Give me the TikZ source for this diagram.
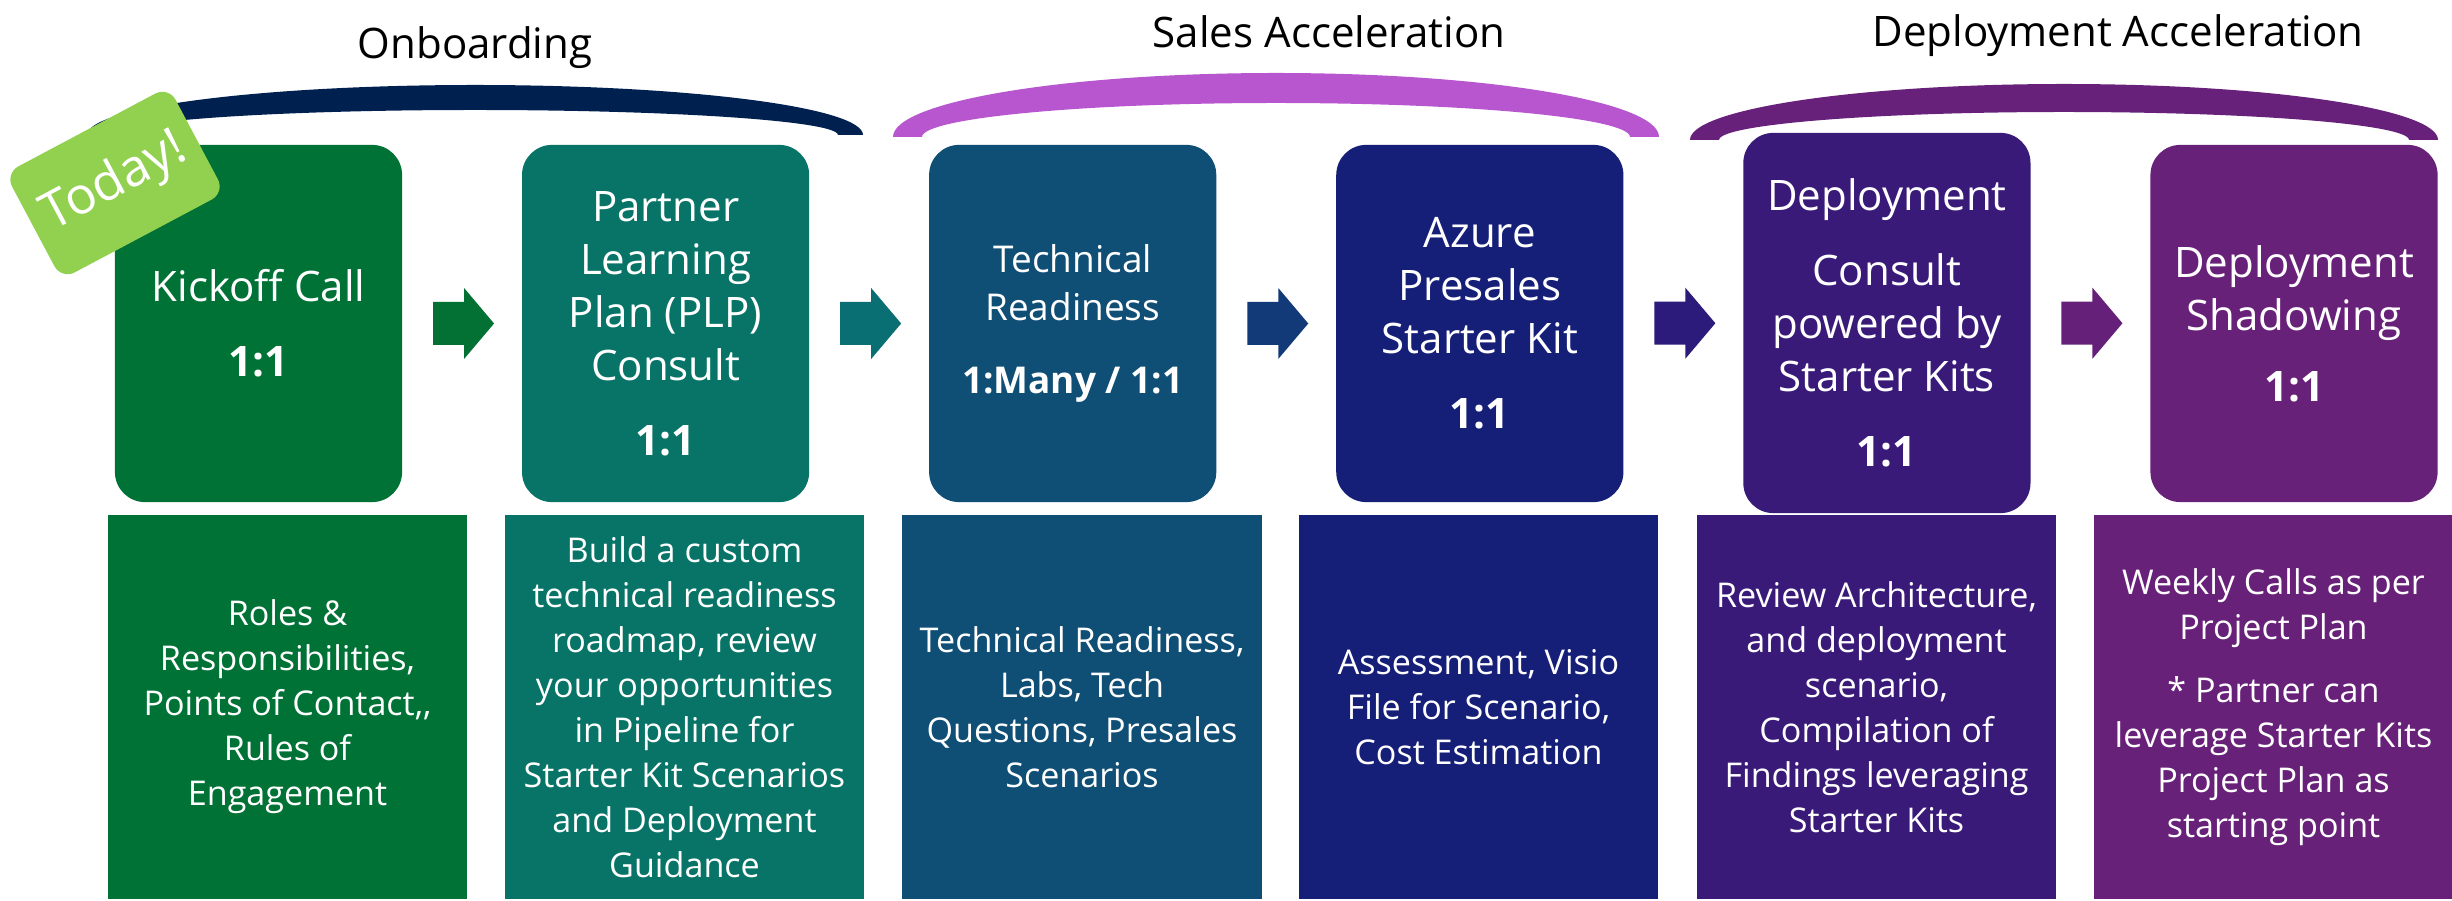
\documentclass[tikz,border=0pt]{standalone}
\usepackage{fontspec}
\setmainfont{Open Sans}
\usetikzlibrary{calc}

% stage colours
\definecolor{stA}{RGB}{0,114,54}
\definecolor{stB}{RGB}{7,116,103}
\definecolor{stC}{RGB}{15,78,117}
\definecolor{stD}{RGB}{22,31,120}
\definecolor{stE}{RGB}{58,26,120}
\definecolor{stF}{RGB}{104,33,120}
% arrow colours
\definecolor{arA}{RGB}{3,113,52}
\definecolor{arB}{RGB}{10,111,115}
\definecolor{arC}{RGB}{18,58,121}
\definecolor{arD}{RGB}{44,27,122}
\definecolor{arE}{RGB}{101,33,121}
% phase brackets and badge
\definecolor{brNavy}{RGB}{0,32,80}
\definecolor{brOrchid}{RGB}{184,86,207}
\definecolor{brPurple}{RGB}{104,33,122}
\definecolor{badge}{RGB}{146,208,80}

\newcommand\stagefont{\fontsize{11.95}{15.08}\selectfont}
\newcommand\smallstagefont{\fontsize{10.5}{13.7}\selectfont}
\newcommand\detailfont{\fontsize{9.7}{12.8}\selectfont}
\newcommand\phasefont{\fontsize{11.95}{14}\selectfont}
\newcommand\todayfont{\fontsize{14.6}{16}\selectfont}

\tikzset{
  stagebox/.style={rounded corners=0.3cm, inner sep=0pt, minimum width=2.87cm,
    minimum height=3.57cm, text=white, align=center, font=\stagefont},
  detailbox/.style={inner sep=0pt, minimum width=3.59cm, minimum height=3.84cm,
    text=white, align=center, font=\detailfont},
  phaselabel/.style={anchor=base, font=\phasefont, text=black},
  blockarrow/.pic={
    \fill[pic actions] (-29,-21.5) -- (2,-21.5) -- (2,-35.5) -- (32,0)
      -- (2,35.5) -- (2,21.5) -- (-29,21.5) -- cycle;
  }
}

\begin{document}
\begin{tikzpicture}[x=0.01cm,y=-0.01cm]
\useasboundingbox (0,0) rectangle (2452,901);
\fill[white] (0,0) rectangle (2452,901);

% phase brackets
\fill[brNavy] (87,135) arc[start angle=180,end angle=360,x radius=388,y radius=50]
  -- (838,135) arc[start angle=0,end angle=-180,x radius=363,y radius=25] -- cycle;
\fill[brOrchid] (893,137) arc[start angle=180,end angle=360,x radius=383,y radius=64]
  -- (1630,137) arc[start angle=0,end angle=-180,x radius=354,y radius=34] -- cycle;
\fill[brPurple] (1690,140) arc[start angle=180,end angle=360,x radius=374,y radius=56]
  -- (2409,140) arc[start angle=0,end angle=-180,x radius=345,y radius=28] -- cycle;

% phase titles
\node[phaselabel] (p1) at (475,59) {Onboarding};
\node[phaselabel] (p2) at (1329,48) {Sales Acceleration};
\node[phaselabel] (p3) at (2118,47) {Deployment Acceleration};

% stages
\node[stagebox, fill=stA] (s1) at (258.5,323.5) {Kickoff Call\\[6.3pt]\textbf{1:1}};
\node[stagebox, fill=stB] (s2) at (665.6,323.5) {Partner\\Learning\\Plan (PLP)\\Consult\\[6.3pt]\textbf{1:1}};
\node[stagebox, fill=stC, font=\smallstagefont] (s3) at (1072.7,323.5) {Technical\\Readiness\\[7pt]\textbf{1:Many / 1:1}};
\node[stagebox, fill=stD] (s4) at (1479.8,323.5) {Azure\\Presales\\Starter Kit\\[6.3pt]\textbf{1:1}};
\node[stagebox, fill=stE, minimum height=3.8cm] (s5) at (1886.9,323) {Deployment\\[6.3pt]Consult\\powered by\\Starter Kits\\[6.3pt]\textbf{1:1}};
\node[stagebox, fill=stF] (s6) at (2294,323.5) {Deployment\\Shadowing\\[5pt]\textbf{1:1}};

% arrows between stages
\pic[fill=arA] at ($(s1.east)!0.5!(s2.west)$) {blockarrow};
\pic[fill=arB] at ($(s2.east)!0.5!(s3.west)$) {blockarrow};
\pic[fill=arC] at ($(s3.east)!0.5!(s4.west)$) {blockarrow};
\pic[fill=arD] at ($(s4.east)!0.5!(s5.west)$) {blockarrow};
\pic[fill=arE] at ($(s5.east)!0.5!(s6.west)$) {blockarrow};

% details under each stage
\node[detailbox, fill=stA] (d1) at (287.5,707) {Roles \&\\Responsibilities,\\Points of Contact,{},\\Rules of\\Engagement};
\node[detailbox, fill=stB] (d2) at (684.5,707) {Build a custom\\technical readiness\\roadmap, review\\your opportunities\\in Pipeline for\\Starter Kit Scenarios\\and Deployment\\Guidance};
\node[detailbox, fill=stC] (d3) at (1082,707) {Technical Readiness,\\Labs, Tech\\Questions, Presales\\Scenarios};
\node[detailbox, fill=stD] (d4) at (1478.5,707) {Assessment, Visio\\File for Scenario,\\Cost Estimation};
\node[detailbox, fill=stE] (d5) at (1876.5,707) {Review Architecture,\\and deployment\\scenario,\\Compilation of\\Findings leveraging\\Starter Kits};
\node[detailbox, fill=stF] (d6) at (2273.5,707) {Weekly Calls as per\\Project Plan\\[5pt]* Partner can\\leverage Starter Kits\\Project Plan as\\starting point};

% today marker
\node[rotate=28, fill=badge, rounded corners=0.15cm, minimum width=1.85cm,
  minimum height=1.2cm, inner sep=0pt, text=white, font=\todayfont] (today) at (115,183) {Today!};
\end{tikzpicture}
\end{document}
